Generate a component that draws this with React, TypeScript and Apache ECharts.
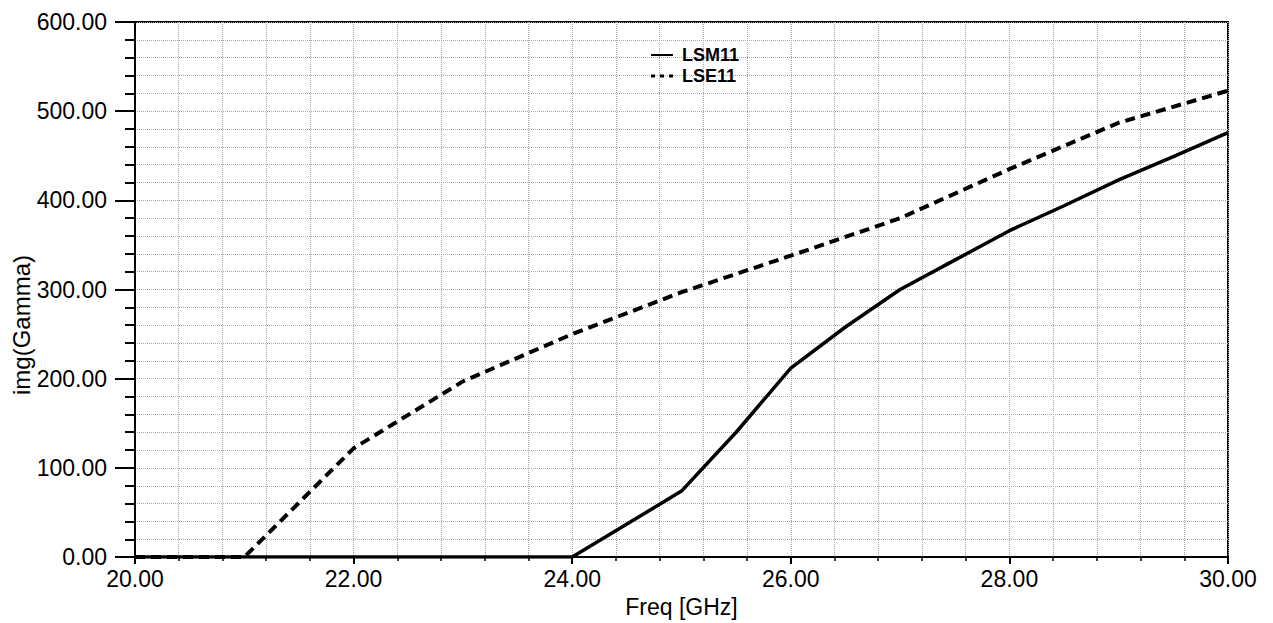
import React, { useEffect, useRef } from "react";
import * as echarts from "echarts";

const lsmFreq = [20, 24, 25, 25.5, 26, 26.5, 27, 27.5, 28, 28.5, 29, 29.5, 30];
const lsmValues = [0, 0, 74, 140, 212, 258, 300, 333, 366, 394, 423, 449, 476];
const lseFreq = [20, 21, 22, 23, 24, 25, 26, 27, 28, 29, 30];
const lseValues = [0, 0, 122, 197, 250, 297, 338, 380, 435, 487, 523];
const seriesNames = ["LSM11", "LSE11"];
const xAxisTitle = "Freq [GHz]";
const yAxisTitle = "img(Gamma)";

const FONT = "Liberation Sans, Arial, sans-serif";

export default function App() {
  const ref = useRef<HTMLDivElement>(null);
  useEffect(() => {
    if (!ref.current) return;
    const chart = echarts.init(ref.current, null, { renderer: "svg" });
    const gridLine = { show: true, lineStyle: { color: "#a8a8a8", type: "dotted", width: 1 } };
    chart.setOption({
      animation: false,
      backgroundColor: "#fff",
      grid: {
        left: 135,
        right: 45,
        top: 22,
        bottom: 56,
        show: true,
        borderColor: "#000",
        borderWidth: 2,
        backgroundColor: "transparent",
      },
      legend: {
        orient: "vertical",
        left: 651,
        top: 46,
        padding: 0,
        itemWidth: 22,
        itemHeight: 14,
        itemGap: 3,
        textStyle: { fontFamily: FONT, fontSize: 18, fontWeight: "bold", color: "#000", padding: [0, 0, 0, 4] },
        data: [
          { name: seriesNames[0], icon: "path://M0,0 L22,0 L22,2 L0,2 Z", itemStyle: { color: "#000" } },
          { name: seriesNames[1], icon: "path://M0,0 L4,0 L4,3 L0,3 Z M9,0 L13,0 L13,3 L9,3 Z M18,0 L22,0 L22,3 L18,3 Z", itemStyle: { color: "#000" } },
        ],
      },
      xAxis: {
        type: "value",
        min: 20,
        max: 30,
        interval: 2,
        name: xAxisTitle,
        nameLocation: "middle",
        nameGap: 29,
        nameTextStyle: { fontFamily: FONT, fontSize: 23, color: "#000" },
        axisLine: { show: true, lineStyle: { color: "#000", width: 2 } },
        axisTick: { show: true, inside: false, length: 7, lineStyle: { color: "#000", width: 2 } },
        minorTick: { show: true, splitNumber: 5, length: 4, lineStyle: { color: "#000", width: 1.5 } },
        axisLabel: {
          margin: 10,
          fontFamily: FONT,
          fontSize: 23,
          color: "#000",
          formatter: (v: number) => v.toFixed(2),
        },
        splitLine: gridLine,
        minorSplitLine: gridLine,
      },
      yAxis: {
        type: "value",
        min: 0,
        max: 600,
        interval: 100,
        axisLine: { show: true, lineStyle: { color: "#000", width: 2 } },
        axisTick: { show: true, inside: false, length: 20, lineStyle: { color: "#000", width: 2 } },
        minorTick: { show: true, splitNumber: 5, length: 10, lineStyle: { color: "#000", width: 2 } },
        axisLabel: {
          margin: 28,
          fontFamily: FONT,
          fontSize: 23,
          color: "#000",
          formatter: (v: number) => v.toFixed(2),
        },
        splitLine: gridLine,
        minorSplitLine: gridLine,
      },
      graphic: [
        {
          type: "text",
          x: 21,
          y: 325,
          rotation: Math.PI / 2,
          style: {
            text: yAxisTitle,
            fontFamily: FONT,
            fontSize: 24,
            fill: "#000",
            textAlign: "center",
            textVerticalAlign: "middle",
          },
        },
      ],
      series: [
        {
          name: seriesNames[0],
          type: "line",
          symbol: "none",
          data: lsmFreq.map((f, i) => [f, lsmValues[i]]),
          lineStyle: { color: "#000", width: 3.5, type: "solid" },
          itemStyle: { color: "#000" },
          z: 3,
        },
        {
          name: seriesNames[1],
          type: "line",
          symbol: "none",
          data: lseFreq.map((f, i) => [f, lseValues[i]]),
          lineStyle: { color: "#000", width: 4, type: [10, 6] },
          itemStyle: { color: "#000" },
          z: 3,
        },
      ],
    });
    return () => chart.dispose();
  }, []);
  return (
    <div
      ref={ref}
      style={{ position: "absolute", left: 0, top: 0, width: 1273, height: 623 }}
    />
  );
}
